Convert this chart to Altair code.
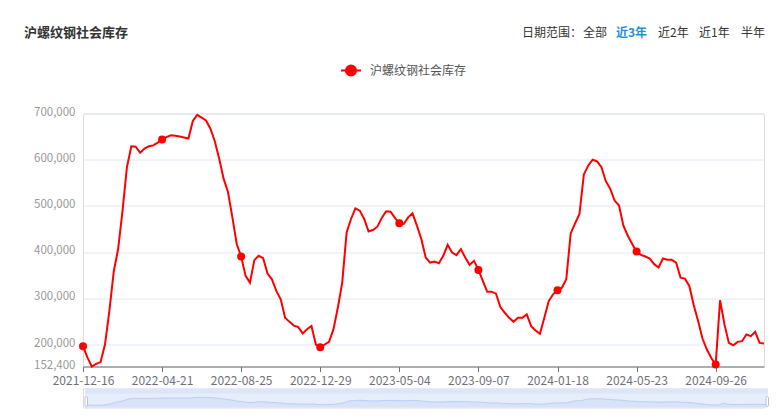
import altair as alt
import pandas as pd

title_text = "沪螺纹钢社会库存"
series_name = "沪螺纹钢社会库存"
start_date = "2021-12-16"
end_date = "2024-12-12"
skipped_dates = ["2023-10-05"]

values = [
    196000, 172000, 152400, 158000, 162000, 200000, 272000, 358000, 407000, 490000,
    584000, 629000, 628000, 615000, 624000, 629000, 631000, 637000, 643500, 649000,
    653000, 652000, 650000, 648000, 646000, 684000, 697000, 691000, 685000, 667000,
    640000, 602000, 559000, 530000, 475000, 417000, 390500, 348500, 334000, 382600,
    392000, 387000, 353500, 341000, 316000, 298000, 258000, 249000, 241000, 237500,
    224000, 233000, 240000, 200000, 194000, 200000, 205700, 232600, 279600, 334000,
    442600, 471700, 494800, 489800, 471700, 444800, 447800, 455000, 474000, 488300,
    487600, 474000, 462200, 460900, 475200, 484000, 457200, 428300, 388300, 377400,
    379600, 376000, 392000, 415900, 399100, 393500, 406500, 388300, 372400, 381100,
    361500, 337600, 314400, 314400, 310000, 281000, 268700, 257800, 249100, 257800,
    257800, 265200, 239800, 230400, 223000, 257800, 294000, 308700, 317400, 323000,
    341300, 440400, 462200, 482600, 568100, 587600, 600000, 596300, 583900, 553500,
    537000, 511500, 500700, 457200, 435400, 417400, 401300, 394100, 390500, 386100,
    373900, 366600, 386100, 383300, 383300, 377400, 344800, 342600, 326700, 285400,
    250700, 213000, 189100, 170900, 156500, 295700, 243500, 203500, 198500, 205700,
    207200, 221700, 218000, 227400, 203500, 202200,
]

tick_labels = ["2021-12-16", "2022-04-21", "2022-08-25", "2022-12-29", "2023-05-04",
               "2023-09-07", "2024-01-18", "2024-05-23", "2024-09-26"]
y_ticks = [152400, 200000, 300000, 400000, 500000, 600000, 700000]
range_labels = ["日期范围：", "全部", "近3年", "近2年", "近1年", "半年"]
range_x = [439, 500, 533, 575, 616, 658]
active_range = "近3年"

weeks = pd.date_range(start_date, end_date, freq="7D").strftime("%Y-%m-%d")
dates = [d for d in weeks if d not in skipped_dates][:len(values)]
df = pd.DataFrame({"date": dates, "value": values[:len(dates)], "series": series_name})
df_pts = df[df["date"].isin(tick_labels)]

W, H = 681, 253
RED = "#ff0000"
FONT = "Noto Sans CJK SC"

xenc = alt.X("date:O", sort=None,
             scale=alt.Scale(type="point", padding=0),
             axis=alt.Axis(values=tick_labels, labelAngle=0, title=None,
                           domainColor="#6e7079", tickColor="#6e7079", tickSize=5,
                           labelColor="#6e7079", labelFontSize=12, labelPadding=4,
                           grid=False, labelOverlap=False, labelFont=FONT))
yenc = alt.Y("value:Q",
             scale=alt.Scale(domain=[152400, 700000], nice=False, zero=False),
             axis=alt.Axis(values=y_ticks, format=",.0f", title=None, domain=False, ticks=False,
                           labelColor="#999999", labelFontSize=11.5, labelPadding=8,
                           labelOffset=-1.5, gridColor="#e0e6f1", labelFont=FONT))

legend_path = "M-1,0L1,0M-0.5,0A0.5,0.5 0 1,0 0.5,0A0.5,0.5 0 1,0 -0.5,0Z"

line = alt.Chart(df).mark_line(strokeWidth=2, color=RED).encode(
    x=xenc, y=yenc,
    color=alt.Color("series:N", scale=alt.Scale(range=[RED]),
                    legend=alt.Legend(orient="none", legendX=257, legendY=-54, title=None,
                                      symbolType=legend_path, symbolSize=400,
                                      symbolStrokeWidth=2, symbolFillColor=RED,
                                      symbolStrokeColor=RED, labelOffset=8,
                                      labelFontSize=12, labelColor="#555555",
                                      labelFont=FONT)),
)
pts = alt.Chart(df_pts).mark_circle(size=64, color=RED, opacity=1).encode(x="date:O", y="value:Q")

layers = [line, pts]
title_layer = alt.Chart(pd.DataFrame({"t": [title_text]})).mark_text(
    align="left", baseline="middle", fontSize=13, fontWeight="bold", color="#333333", font=FONT
).encode(text="t:N", x=alt.value(-59), y=alt.value(-81))
layers.append(title_layer)
for lab, xv in zip(range_labels, range_x):
    active = lab == active_range
    layers.append(alt.Chart(pd.DataFrame({"t": [lab]})).mark_text(
        align="left", baseline="middle", fontSize=12, font=FONT,
        fontWeight="bold" if active else "normal",
        color="#1e90e0" if active else "#333333",
    ).encode(text="t:N", x=alt.value(xv), y=alt.value(-81)))

main = alt.layer(*layers).properties(width=W, height=H)

one = pd.DataFrame({"k": [0]})
SH = 19
bg = alt.Chart(one).mark_rect(color="#e6eefc").encode(
    x=alt.value(2), x2=alt.value(W + 4), y=alt.value(0), y2=alt.value(SH))
strip = alt.Chart(one).mark_rect(color="#dde6f7").encode(
    x=alt.value(2), x2=alt.value(W + 4), y=alt.value(0), y2=alt.value(5))
area = alt.Chart(df).mark_area(color="#d2ddf7", line={"color": "#b3c6f2", "strokeWidth": 0.8}).encode(
    x=alt.X("date:O", sort=None, scale=alt.Scale(type="point", padding=0, range=[2, W + 3]), axis=None),
    y=alt.Y("value:Q", scale=alt.Scale(domain=[0, 1300000]), axis=None),
)
h1 = alt.Chart(one).mark_rect(color="#ffffff", stroke="#a9b3c6", strokeWidth=0.8, cornerRadius=2).encode(
    x=alt.value(2), x2=alt.value(4.5), y=alt.value(8), y2=alt.value(18))
h2 = alt.Chart(one).mark_rect(color="#ffffff", stroke="#a9b3c6", strokeWidth=0.8, cornerRadius=2).encode(
    x=alt.value(W + 2), x2=alt.value(W + 4.5), y=alt.value(8), y2=alt.value(18))
slider = alt.layer(bg, strip, area, h1, h2).properties(width=W, height=SH)

chart = alt.vconcat(main, slider, spacing=22, bounds="flush").properties(
    padding={"left": 15, "top": 17.5, "right": 0, "bottom": 0}
).configure_view(strokeWidth=0).configure(font=FONT)

chart.save("out.html", embed_options={"renderer": "svg", "actions": False})
